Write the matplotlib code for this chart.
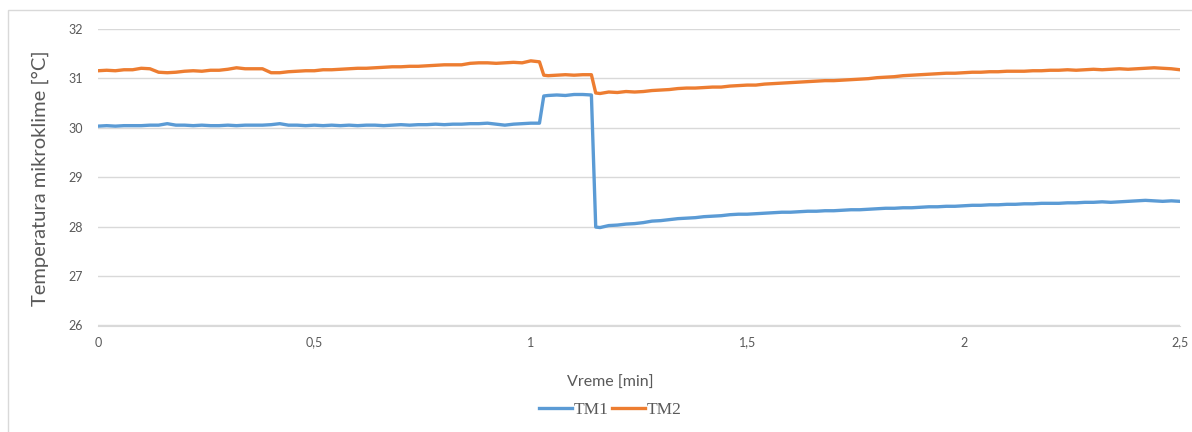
import matplotlib
matplotlib.use('Agg')
import matplotlib.pyplot as plt
from matplotlib.patches import Rectangle

# vreme [min]
vreme = [0.00, 0.02, 0.04, 0.06, 0.08, 0.10, 0.12, 0.14, 0.16, 0.18,
         0.20, 0.22, 0.24, 0.26, 0.28, 0.30, 0.32, 0.34, 0.36, 0.38,
         0.40, 0.42, 0.44, 0.46, 0.48, 0.50, 0.52, 0.54, 0.56, 0.58,
         0.60, 0.62, 0.64, 0.66, 0.68, 0.70, 0.72, 0.74, 0.76, 0.78,
         0.80, 0.82, 0.84, 0.86, 0.88, 0.90, 0.92, 0.94, 0.96, 0.98,
         1.00, 1.02, 1.03, 1.04, 1.06, 1.08, 1.10, 1.12, 1.14, 1.15,
         1.16, 1.18, 1.20, 1.22, 1.24, 1.26, 1.28, 1.30, 1.32, 1.34,
         1.36, 1.38, 1.40, 1.42, 1.44, 1.46, 1.48, 1.50, 1.52, 1.54,
         1.56, 1.58, 1.60, 1.62, 1.64, 1.66, 1.68, 1.70, 1.72, 1.74,
         1.76, 1.78, 1.80, 1.82, 1.84, 1.86, 1.88, 1.90, 1.92, 1.94,
         1.96, 1.98, 2.00, 2.02, 2.04, 2.06, 2.08, 2.10, 2.12, 2.14,
         2.16, 2.18, 2.20, 2.22, 2.24, 2.26, 2.28, 2.30, 2.32, 2.34,
         2.36, 2.38, 2.40, 2.42, 2.44, 2.46, 2.48, 2.50]

t_m1 = [30.03, 30.04, 30.03, 30.04, 30.04, 30.04, 30.05, 30.05, 30.08, 30.05,
        30.05, 30.04, 30.05, 30.04, 30.04, 30.05, 30.04, 30.05, 30.05, 30.05,
        30.06, 30.08, 30.05, 30.05, 30.04, 30.05, 30.04, 30.05, 30.04, 30.05,
        30.04, 30.05, 30.05, 30.04, 30.05, 30.06, 30.05, 30.06, 30.06, 30.07,
        30.06, 30.07, 30.07, 30.08, 30.08, 30.09, 30.07, 30.05, 30.07, 30.08,
        30.09, 30.09, 30.64, 30.65, 30.66, 30.65, 30.67, 30.67, 30.66, 27.99,
        27.98, 28.02, 28.03, 28.05, 28.06, 28.08, 28.11, 28.12, 28.14, 28.16,
        28.17, 28.18, 28.20, 28.21, 28.22, 28.24, 28.25, 28.25, 28.26, 28.27,
        28.28, 28.29, 28.29, 28.30, 28.31, 28.31, 28.32, 28.32, 28.33, 28.34,
        28.34, 28.35, 28.36, 28.37, 28.37, 28.38, 28.38, 28.39, 28.40, 28.40,
        28.41, 28.41, 28.42, 28.43, 28.43, 28.44, 28.44, 28.45, 28.45, 28.46,
        28.46, 28.47, 28.47, 28.47, 28.48, 28.48, 28.49, 28.49, 28.50, 28.49,
        28.50, 28.51, 28.52, 28.53, 28.52, 28.51, 28.52, 28.51]

t_m2 = [31.15, 31.16, 31.15, 31.17, 31.17, 31.20, 31.19, 31.12, 31.11, 31.12,
        31.14, 31.15, 31.14, 31.16, 31.16, 31.18, 31.21, 31.19, 31.19, 31.19,
        31.11, 31.11, 31.13, 31.14, 31.15, 31.15, 31.17, 31.17, 31.18, 31.19,
        31.20, 31.20, 31.21, 31.22, 31.23, 31.23, 31.24, 31.24, 31.25, 31.26,
        31.27, 31.27, 31.27, 31.30, 31.31, 31.31, 31.30, 31.31, 31.32, 31.31,
        31.35, 31.33, 31.06, 31.05, 31.06, 31.07, 31.06, 31.07, 31.07, 30.70,
        30.69, 30.72, 30.71, 30.73, 30.72, 30.73, 30.75, 30.76, 30.77, 30.79,
        30.80, 30.80, 30.81, 30.82, 30.82, 30.84, 30.85, 30.86, 30.86, 30.88,
        30.89, 30.90, 30.91, 30.92, 30.93, 30.94, 30.95, 30.95, 30.96, 30.97,
        30.98, 30.99, 31.01, 31.02, 31.03, 31.05, 31.06, 31.07, 31.08, 31.09,
        31.10, 31.10, 31.11, 31.12, 31.12, 31.13, 31.13, 31.14, 31.14, 31.14,
        31.15, 31.15, 31.16, 31.16, 31.17, 31.16, 31.17, 31.18, 31.17, 31.18,
        31.19, 31.18, 31.19, 31.20, 31.21, 31.20, 31.19, 31.17]

x_ticks = [0, 0.5, 1, 1.5, 2, 2.5]
x_labels = ['0', '0,5', '1', '1,5', '2', '2,5']
y_ticks = [26, 27, 28, 29, 30, 31, 32]

plt.rcParams['font.family'] = ['Lato', 'DejaVu Sans']
gray = '#595959'

fig = plt.figure(figsize=(11.92, 4.32), dpi=100)
W, H = 1192, 432

# okvir grafikona
fig.patches.append(Rectangle((8 / W, -0.01), 1.0, 1 - 10 / H + 0.01, transform=fig.transFigure,
                             fill=False, edgecolor='#d9d9d9', linewidth=1))

ax = fig.add_axes([98 / W, 1 - 325.5 / H, (1180 - 98) / W, (325.5 - 28.7) / H])

ax.plot(vreme, t_m1, color='#5b9bd5', lw=2.4, label='TM1')
ax.plot(vreme, t_m2, color='#ed7d31', lw=2.4, label='TM2')

ax.set_xlim(0, 2.5)
ax.set_ylim(26, 32)
ax.set_xticks(x_ticks)
ax.set_xticklabels(x_labels)
ax.set_yticks(y_ticks)
ax.tick_params(length=0, colors=gray, labelsize=9)
ax.tick_params(axis='x', pad=8)
ax.tick_params(axis='y', pad=11)
ax.grid(axis='y', color='#d9d9d9', lw=1)
ax.set_axisbelow(True)
for s in ['top', 'right', 'left']:
    ax.spines[s].set_visible(False)
ax.spines['bottom'].set_color('#d9d9d9')

fig.text(40 / W, 1 - 178 / H, 'Temperatura mikroklime [°C]', rotation=90, ha='center', va='center',
         color=gray, fontsize=14.5)
fig.text(610 / W, 1 - 383 / H, 'Vreme [min]', ha='center', va='center', color=gray, fontsize=11.5)

leg = ax.legend(loc='center', bbox_to_anchor=(610 / W, 1 - 410 / H), bbox_transform=fig.transFigure,
                ncol=2, frameon=False, handlelength=1.9, handletextpad=0.1, columnspacing=0.2,
                prop={'family': 'Liberation Serif', 'size': 12.5})
for txt in leg.get_texts():
    txt.set_color(gray)

fig.savefig('out.png', dpi=100)
